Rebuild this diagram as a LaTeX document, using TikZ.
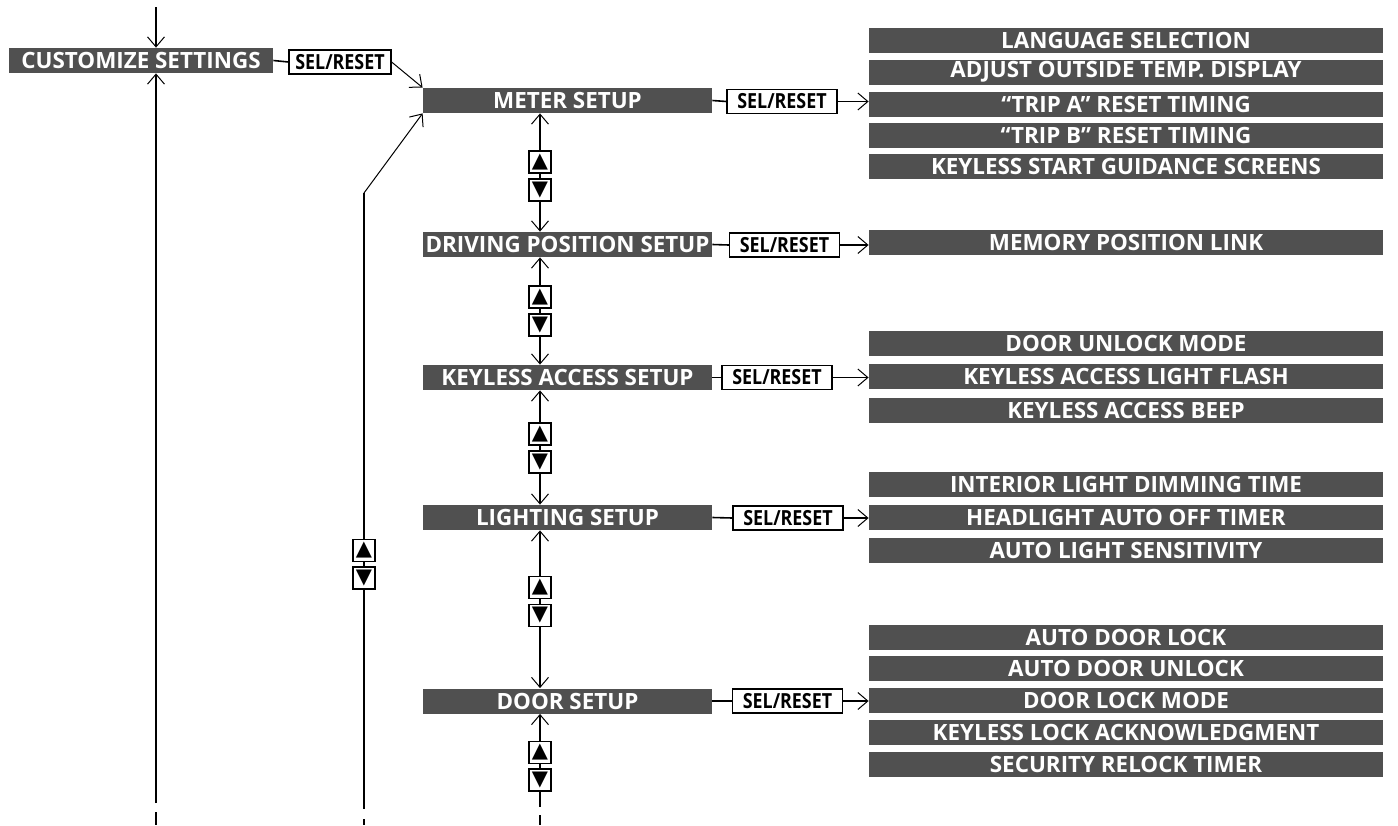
\documentclass[tikz,border=0pt]{standalone}
\usepackage{fontspec}
\setmainfont{Open Sans}
\newfontfamily\symfont{DejaVu Sans}
\newfontfamily\selfont{Open Sans}[FakeStretch=0.86]
\usetikzlibrary{arrows.meta}
\definecolor{barcolor}{HTML}{505050}
\tikzset{
  barra/.style={fill=barcolor, text=white, font=\fontsize{11.2}{13}\selectfont\bfseries, minimum height=12.5pt, inner sep=0pt},
  menu/.style={barra, minimum width=144.5pt},
  opcion/.style={barra, minimum width=257pt},
  selbox/.style={draw, line width=0.6pt, fill=white, font=\selfont\fontsize{10.4}{11}\selectfont\bfseries, minimum width=55pt, minimum height=12pt, inner sep=0pt},
  tecla/.style={draw, line width=0.6pt, fill=white, minimum size=11pt, inner sep=0pt, font=\symfont\fontsize{10.5}{10.5}\selectfont},
  flecha/.style={-{Straight Barb[length=5pt,width=8.5pt,line width=0.5pt]}},
  eje/.style={line width=1pt},
  enlace/.style={line width=0.8pt},
}
\begin{document}
\begin{tikzpicture}[x=0.5pt, y=-0.5pt]
  \useasboundingbox (0,0) rectangle (1398,825);

  % Menu principal
  \node[barra, minimum width=132pt] (custom) at (141,60.5) {CUSTOMIZE SETTINGS};
  \node[selbox, minimum width=51pt] (sel0) at (340,62) {SEL/RESET};
  \draw[enlace] (custom.east) -- (sel0.west);

  % Submenus
  \node[menu] (meter) at (567.5,100.5) {METER SETUP};
  \node[menu] (driving) at (567.5,244.5) {DRIVING POSITION SETUP};
  \node[menu] (keyless) at (567.5,377.5) {KEYLESS ACCESS SETUP};
  \node[menu] (lighting) at (567.5,517.5) {LIGHTING SETUP};
  \node[menu] (door) at (567.5,701) {DOOR SETUP};
  \draw[line width=0.5pt, flecha] (sel0.east) -- (meter.north west);

  % SEL/RESET de cada submenu
  \node[selbox] (selmeter) at (782,101.5) {SEL/RESET};
  \node[selbox] (seldriving) at (784.5,245) {SEL/RESET};
  \node[selbox] (selkeyless) at (777,377.5) {SEL/RESET};
  \node[selbox] (sellighting) at (788,518) {SEL/RESET};
  \node[selbox] (seldoor) at (787.5,701) {SEL/RESET};
  \foreach \m in {meter, driving, keyless, lighting, door}
    \draw[enlace] (\m.east) -- (sel\m.west);

  % Opciones
  \foreach \y/\t [count=\i] in {40/LANGUAGE SELECTION, 72/ADJUST OUTSIDE TEMP. DISPLAY,
      104/{“TRIP A” RESET TIMING}, 135.5/{“TRIP B” RESET TIMING}, 166/KEYLESS START GUIDANCE SCREENS}
    \node[opcion] (om\i) at (1126,\y) {\t};
  \node[opcion] (od1) at (1126,242.5) {MEMORY POSITION LINK};
  \foreach \y/\t [count=\i] in {343/DOOR UNLOCK MODE, 376.5/KEYLESS ACCESS LIGHT FLASH, 410.5/KEYLESS ACCESS BEEP}
    \node[opcion] (ok\i) at (1126,\y) {\t};
  \foreach \y/\t [count=\i] in {484.5/INTERIOR LIGHT DIMMING TIME, 517.5/HEADLIGHT AUTO OFF TIMER, 550.5/AUTO LIGHT SENSITIVITY}
    \node[opcion] (ol\i) at (1126,\y) {\t};
  \foreach \y/\t [count=\i] in {637/AUTO DOOR LOCK, 668/AUTO DOOR UNLOCK, 700/DOOR LOCK MODE,
      732/KEYLESS LOCK ACKNOWLEDGMENT, 764/SECURITY RELOCK TIMER}
    \node[opcion] (od\i) at (1126,\y) {\t};

  \draw[enlace, flecha] (selmeter.east) -- (selmeter.east -| om3.west);
  \draw[enlace, flecha] (seldriving.east) -- (seldriving.east -| od1.west);
  \draw[enlace, flecha] (selkeyless.east) -- (selkeyless.east -| ok2.west);
  \draw[enlace, flecha] (sellighting.east) -- (sellighting.east -| ol2.west);
  \draw[enlace, flecha] (seldoor.east) -- (seldoor.east -| od3.west);

  % Teclas entre submenus
  \foreach \a/\b/\yu/\yd [count=\i] in {meter/driving/162/190, driving/keyless/297/325,
      keyless/lighting/434/462, lighting/door/587.5/615.5} {
    \node[tecla] (up\i) at (540,\yu) {▲};
    \node[tecla] (dn\i) at (540,\yd) {▼};
    \draw[eje, flecha] (up\i) -- (up\i |- \a.south);
    \draw[eje] (up\i) -- (dn\i);
    \draw[eje, flecha] (dn\i) -- (dn\i |- \b.north);
  }
  \node[tecla] (up5) at (540,752.5) {▲};
  \node[tecla] (dn5) at (540,780) {▼};
  \coordinate (fin3) at (540,807);
  \draw[eje, flecha] (up5) -- (up5 |- door.south);
  \draw[eje] (up5) -- (dn5);
  \draw[eje] (dn5) -- (fin3);
  \draw[eje] (540,815) -- (540,825);

  % Linea izquierda
  \coordinate (inicio) at (156,7);
  \coordinate (fin1) at (156,803);
  \draw[eje, flecha] (inicio) -- (inicio |- custom.north);
  \draw[eje, flecha] (fin1) -- (fin1 |- custom.south);
  \draw[eje] (156,812) -- (156,825);

  % Linea central
  \node[tecla] (up0) at (364,550.5) {▲};
  \node[tecla] (dn0) at (364,578) {▼};
  \coordinate (codo) at (364,193);
  \coordinate (fin2) at (364,809);
  \draw[eje] (up0) -- (codo);
  \draw[line width=0.5pt, flecha] (codo) -- (meter.south west);
  \draw[eje] (up0) -- (dn0);
  \draw[eje] (dn0) -- (fin2);
  \draw[eje] (364,819) -- (364,825);
\end{tikzpicture}
\end{document}
